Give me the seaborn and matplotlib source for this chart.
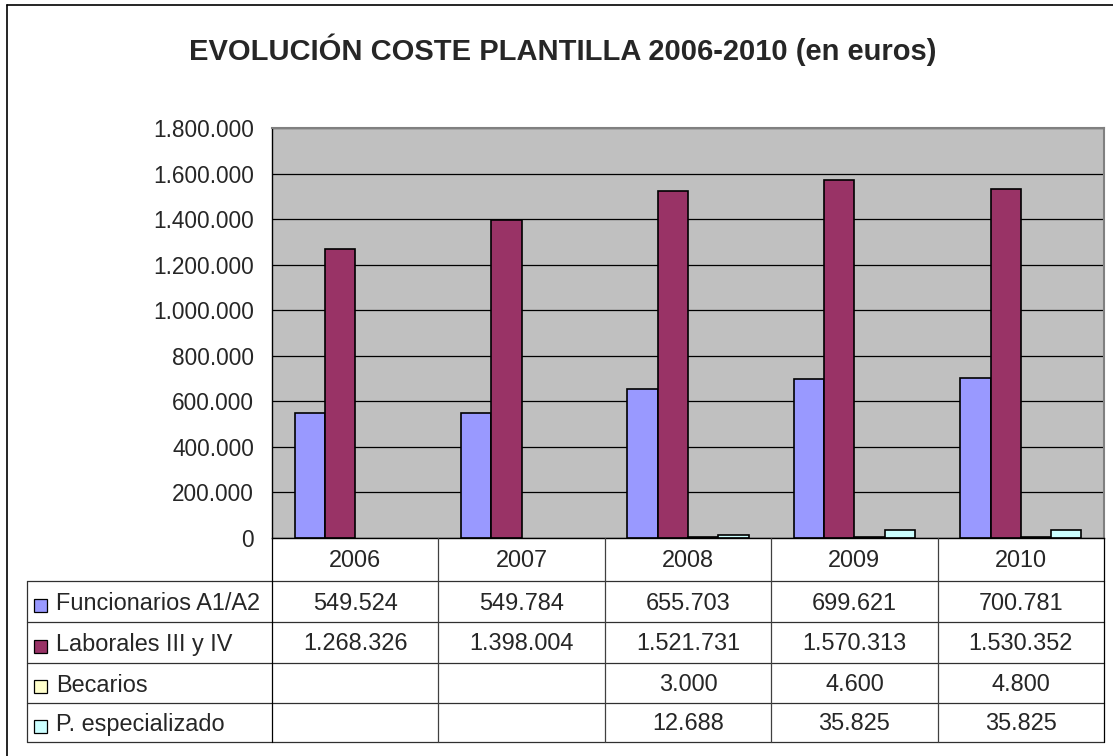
import numpy as np
import pandas as pd
import matplotlib
matplotlib.use("Agg")
import matplotlib.pyplot as plt
from matplotlib.lines import Line2D
from matplotlib.patches import Rectangle
import seaborn as sns

# ---- data -------------------------------------------------------------
years = ["2006", "2007", "2008", "2009", "2010"]
series = ["Funcionarios A1/A2", "Laborales III y IV", "Becarios", "P. especializado"]
funcionarios = [549524, 549784, 655703, 699621, 700781]
laborales = [1268326, 1398004, 1521731, 1570313, 1530352]
becarios = [np.nan, np.nan, 3000, 4600, 4800]
especializado = [np.nan, np.nan, 12688, 35825, 35825]
colors = ["#9999FF", "#993366", "#FFFFCC", "#CCFFFF"]
title = "EVOLUCIÓN COSTE PLANTILLA 2006-2010 (en euros)"

values = [funcionarios, laborales, becarios, especializado]
df = pd.DataFrame(
    [(y, s, v) for s, vals in zip(series, values) for y, v in zip(years, vals)],
    columns=["year", "serie", "value"],
)

sns.set_style("white")
plt.rcParams["font.family"] = ["Liberation Sans", "DejaVu Sans"]
FS_TICK = 16.3
FS_TAB = 16.9


def es_num(v):
    return f"{v:,.0f}".replace(",", ".")


W, H = 1113, 756
fig = plt.figure(figsize=(W / 100, H / 100), dpi=100)
fig.patch.set_facecolor("white")


def fx(px):
    return px / W


def fy(py):
    return 1 - py / H


# plot area
L, R, T, B = 272, 1104, 128, 538
ax = fig.add_axes([fx(L), fy(B), fx(R) - fx(L), fy(T) - fy(B)])
ax.set_facecolor("#C0C0C0")
sns.barplot(
    data=df, x="year", y="value", hue="serie", hue_order=series, order=years,
    palette=colors, saturation=1, width=4 / 5.5, edgecolor="black",
    linewidth=1.2, legend=False, ax=ax, err_kws={"linewidth": 0},
)
ax.set_xlim(-0.5, len(years) - 0.5)
ax.set_ylim(0, 1_800_000)
ax.set_yticks(np.arange(0, 1_800_001, 200_000))
ax.yaxis.set_major_formatter(matplotlib.ticker.FuncFormatter(lambda v, p: es_num(v)))
ax.set_xticks([])
ax.set_xlabel("")
ax.set_ylabel("")
ax.yaxis.grid(True, color="black", linewidth=0.9)
ax.set_axisbelow(True)
ax.tick_params(axis="y", length=5, width=0.9, color="black", pad=8, labelsize=FS_TICK)
for side in ("left", "bottom"):
    ax.spines[side].set_color("black")
    ax.spines[side].set_linewidth(1.0)
for side in ("top", "right"):
    ax.spines[side].set_color("#808080")
    ax.spines[side].set_linewidth(1.5)

# title
fig.text(fx(563), fy(50), title, ha="center", va="center",
         fontsize=21, fontweight="bold")

# outer chart frame
fig.add_artist(Line2D([fx(7), fx(W + 5)], [fy(5), fy(5)], color="black", lw=1.2,
                      transform=fig.transFigure))
fig.add_artist(Line2D([fx(7), fx(7)], [fy(5), fy(H + 5)], color="black", lw=1.2,
                      transform=fig.transFigure))

# data table below the axis
TL = 27
rows = [538, 581, 622, 663, 703, 742]
col_w = (R - L) / len(years)
cols = [L + i * col_w for i in range(len(years) + 1)]


def hline(x0, x1, y, c="black", lw=0.9):
    fig.add_artist(Line2D([fx(x0), fx(x1)], [fy(y), fy(y)], color=c, lw=lw,
                          transform=fig.transFigure))


def vline(x, y0, y1, c="black", lw=0.9):
    fig.add_artist(Line2D([fx(x), fx(x)], [fy(y0), fy(y1)], color=c, lw=lw,
                          transform=fig.transFigure))


for y in rows[1:]:
    hline(TL, R, y, c="#303030")
vline(TL, rows[1], rows[-1], c="#303030")
for i, x in enumerate(cols):
    vline(x, rows[0], rows[-1], c="black" if i in (0, len(cols) - 1) else "#404040")

# header row with years
for i, yr in enumerate(years):
    cx = (cols[i] + cols[i + 1]) / 2
    fig.text(fx(cx), fy((rows[0] + rows[1]) / 2 + 1), yr, ha="center", va="center",
             fontsize=FS_TAB)

# series rows: legend key, name, values
for r, (s, vals, c) in enumerate(zip(series, values, colors)):
    y0, y1 = rows[r + 1], rows[r + 2]
    cy = (y0 + y1) / 2
    ks = 13
    fig.add_artist(Rectangle((fx(34), fy(cy + 10)), fx(ks) - fx(0),
                             fy(0) - fy(ks), facecolor=c, edgecolor="black",
                             lw=0.9, transform=fig.transFigure))
    fig.text(fx(56), fy(cy + 2), s, ha="left", va="center", fontsize=FS_TAB)
    for i, v in enumerate(vals):
        if np.isnan(v):
            continue
        cx = (cols[i] + cols[i + 1]) / 2
        fig.text(fx(cx), fy(cy + 1.5), es_num(v), ha="center", va="center",
                 fontsize=FS_TAB)

fig.savefig("out.png", dpi=100)
